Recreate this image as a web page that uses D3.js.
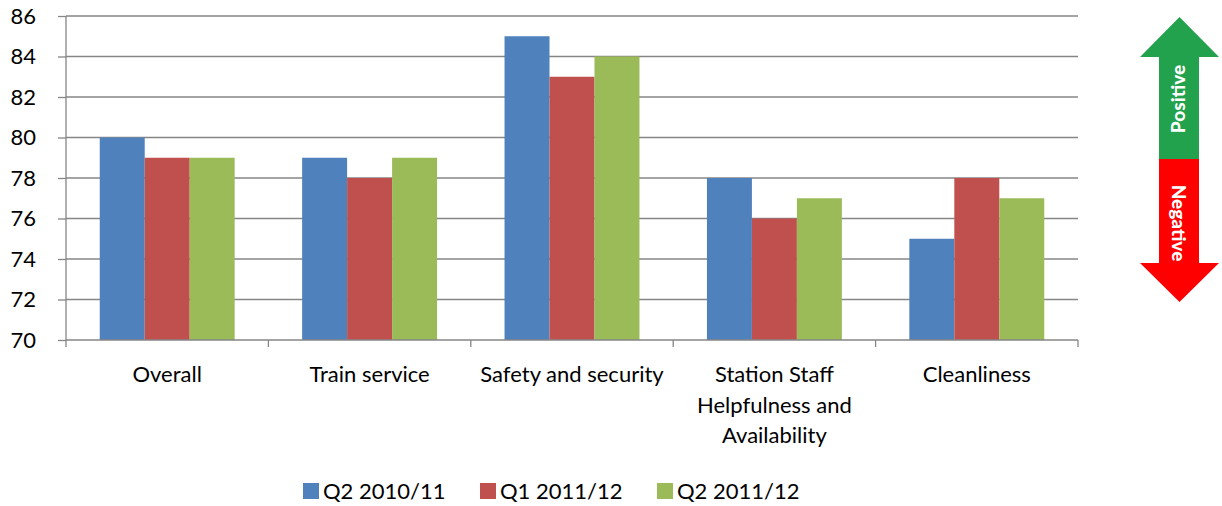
<!DOCTYPE html>
<html><head><meta charset="utf-8">
<script src="https://cdn.jsdelivr.net/npm/d3@7"></script>
<style>body{margin:0;background:#fff}svg{display:block}text{font-family:Lato,"Open Sans",sans-serif}</style>
</head><body>
<svg id="c" width="1222" height="506"></svg>
<script>
const categories = ["Overall", "Train service", "Safety and security", "Station Staff Helpfulness and Availability", "Cleanliness"];
const categoryLines = [["Overall"], ["Train service"], ["Safety and security"], ["Station Staff", "Helpfulness and", "Availability"], ["Cleanliness"]];
const seriesNames = ["Q2 2010/11", "Q1 2011/12", "Q2 2011/12"];
const q2_2010 = [80, 79, 85, 78, 75];
const q1_2011 = [79, 78, 83, 76, 78];
const q2_2011 = [79, 79, 84, 77, 77];
const yTicks = [70, 72, 74, 76, 78, 80, 82, 84, 86];
const colors = ["#4F81BD", "#C0504D", "#9BBB59"];
const series = [q2_2010, q1_2011, q2_2011];

const svg = d3.select("#c");
const L = 66, R = 1078, T = 16, B = 340;
const FS = 22;
const x = d3.scaleBand().domain(categories).range([L, R]).paddingInner(0).paddingOuter(0);
const inner = d3.scaleBand().domain(d3.range(3)).range([0, x.bandwidth()]).paddingOuter(0.75).paddingInner(0);
const y = d3.scaleLinear().domain([70, 86]).range([B, T]);

// gridlines
svg.append("g").selectAll("line").data(yTicks.filter(d => d > 70)).join("line")
  .attr("x1", L).attr("x2", R).attr("y1", d => y(d)).attr("y2", d => y(d))
  .attr("stroke", "#868686").attr("stroke-width", 1.3);

// y axis
const ya = svg.append("g").attr("transform", `translate(${L},0)`)
  .call(d3.axisLeft(y).tickValues(yTicks).tickSize(8).tickPadding(22).tickFormat(d3.format("d")));
ya.select(".domain").attr("stroke", "#868686").attr("stroke-width", 1.3).attr("d", `M0,${T}V${B}`);
ya.selectAll(".tick line").attr("stroke", "#868686").attr("stroke-width", 1.3);
ya.selectAll(".tick text").attr("font-size", FS).attr("fill", "#000").attr("font-family", "Lato,'Open Sans',sans-serif");

// bars
series.forEach((vals, si) => {
  svg.append("g").selectAll("rect").data(vals).join("rect")
    .attr("x", (d, i) => x(categories[i]) + inner(si))
    .attr("width", inner.bandwidth())
    .attr("y", d => y(d))
    .attr("height", d => y(70) - y(d))
    .attr("fill", colors[si]);
});

// x axis
const xa = svg.append("g").attr("transform", `translate(0,${B})`);
xa.append("line").attr("x1", L).attr("x2", R).attr("stroke", "#868686").attr("stroke-width", 1.3);
const bounds = categories.map(c => x(c)).concat([R]);
xa.selectAll("line.tk").data(bounds).join("line").attr("class", "tk")
  .attr("x1", d => d).attr("x2", d => d).attr("y1", 0).attr("y2", 7)
  .attr("stroke", "#868686").attr("stroke-width", 1.3);
categories.forEach((c, i) => {
  const t = xa.append("text").attr("text-anchor", "middle").attr("font-size", FS).attr("fill", "#000")
    .attr("x", x(c) + x.bandwidth() / 2).attr("y", 42);
  categoryLines[i].forEach((ln, j) => t.append("tspan").attr("x", x(c) + x.bandwidth() / 2).attr("dy", j ? 30.5 : 0).text(ln));
});

// legend
const legX = [303, 480, 657];
seriesNames.forEach((n, i) => {
  svg.append("rect").attr("x", legX[i]).attr("y", 483).attr("width", 16).attr("height", 16).attr("fill", colors[i]);
  svg.append("text").attr("x", legX[i] + 20).attr("y", 499).attr("font-size", FS).attr("fill", "#000").text(n);
});

// arrow
const g = svg.append("g");
g.append("path").attr("fill", "#23A24D")
  .attr("d", "M1140,57 L1179.5,17 L1219,57 L1199,57 L1199,159 L1159,159 L1159,57 Z");
g.append("path").attr("fill", "#FE0000")
  .attr("d", "M1159,159 L1199,159 L1199,263 L1219,263 L1179.5,302 L1140,263 L1159,263 Z");
g.append("text").attr("transform", "translate(1185,99) rotate(-90)").attr("text-anchor", "middle")
  .attr("font-size", 19).attr("font-weight", "900").attr("fill", "#fff").attr("font-family", "'Liberation Sans',Arial,sans-serif").text("Positive");
g.append("text").attr("transform", "translate(1172,223) rotate(90)").attr("text-anchor", "middle")
  .attr("font-size", 19).attr("font-weight", "900").attr("fill", "#fff").attr("font-family", "'Liberation Sans',Arial,sans-serif").text("Negative");
</script>
</body></html>
